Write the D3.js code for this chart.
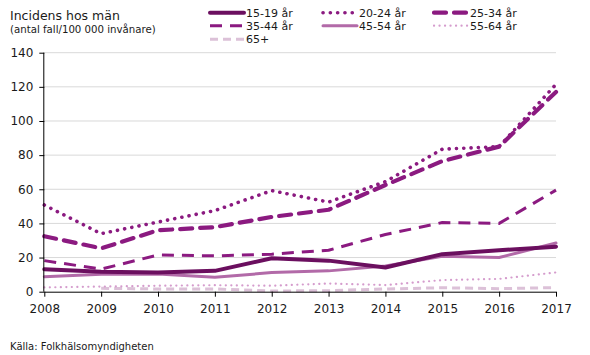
<!DOCTYPE html>
<html><head><meta charset="utf-8">
<script src="https://cdn.jsdelivr.net/npm/d3@7"></script>
<style>
html,body{margin:0;padding:0;background:#fff;}
svg{display:block;font-family:"DejaVu Sans",Verdana,sans-serif;}
</style></head>
<body><svg id="c" width="590" height="355"></svg>
<script>
const years = [2008,2009,2010,2011,2012,2013,2014,2015,2016,2017];
const s15_19 = [13.2,11.7,11.2,12.2,19.6,18.2,14.2,22,24.3,26.4];
const s20_24 = [50.8,34,40.8,47.5,59.2,52.5,64.5,83.5,85,121.5];
const s25_34 = [32.5,25.4,36,37.8,43.8,48,62.5,76.5,85,117];
const s35_44 = [18.2,13.2,21.5,21,22,24.3,33.5,40.5,40,59.5];
const s45_54 = [8.8,10.2,10.4,8.4,11.2,12.2,15,20.8,20,28.5];
const s55_64 = [2.5,3,3.5,3.8,3.5,4.8,3.9,6.8,7.5,11.3];
const s65 = [null,2,1.6,1.6,0.4,0.6,1.6,2.3,1.8,2.4];
const seriesNames = ["15-19 år","20-24 år","25-34 år","35-44 år","45-54 år","55-64 år","65+"];
const yTicks = [0,20,40,60,80,100,120,140];

const styles = [
  {color:"#6b0f5f", width:4,   dash:null,       cap:"round"},
  {color:"#8b1a80", width:3.6, dash:"0.1 7.2",  cap:"round"},
  {color:"#8b1a80", width:4.2, dash:"12 8",     cap:"round"},
  {color:"#8b1a80", width:3,   dash:"12 8",     cap:"butt"},
  {color:"#b26aa8", width:3,   dash:null,       cap:"round"},
  {color:"#d59ccd", width:2.2, dash:"0.1 5.4",  cap:"round"},
  {color:"#dcc1d8", width:3,   dash:"8 5",      cap:"butt"}
];
const allSeries = [s15_19,s20_24,s25_34,s35_44,s45_54,s55_64,s65];

const svg = d3.select("#c");
const x = d3.scaleLinear().domain([2008,2017]).range([44.3,556]);
const y = d3.scaleLinear().domain([0,140]).range([291.7,52.7]);

// gridlines
svg.append("g").selectAll("line").data(yTicks.filter(d=>d>0)).join("line")
  .attr("x1",x(2008)).attr("x2",x(2017)).attr("y1",d=>y(d)).attr("y2",d=>y(d))
  .attr("stroke","#d9d9d9").attr("stroke-width",1);

// lines (draw lightest first)
const line = d3.line().defined(d=>d[1]!=null).x(d=>x(d[0])).y(d=>y(d[1]));
const order = [6,5,4,3,2,1,0];
const lg = svg.append("g");
order.forEach(i=>{
  const st = styles[i];
  lg.append("path").datum(years.map((yr,j)=>[yr,allSeries[i][j]]))
    .attr("d",line).attr("fill","none").attr("stroke",st.color)
    .attr("stroke-width",st.width).attr("stroke-dasharray",st.dash)
    .attr("stroke-linecap",st.cap).attr("stroke-linejoin","round");
});

// axes
const yAxis = d3.axisLeft(y).tickValues(yTicks).tickSize(5).tickPadding(6);
const gy = svg.append("g").attr("transform",`translate(${x(2008)},0)`).call(yAxis);
const xAxis = d3.axisBottom(x).tickValues(years).tickFormat(d3.format("d")).tickSize(5).tickPadding(8);
const gx = svg.append("g").attr("transform",`translate(0,${y(0)})`).call(xAxis);
[gy,gx].forEach(g=>{
  g.select(".domain").attr("stroke","#000").attr("stroke-width",1);
  g.selectAll(".tick line").attr("stroke","#000");
  g.selectAll("text").attr("font-family","DejaVu Sans").attr("font-size",12).attr("fill","#1a1a1a");
});
gy.select(".domain").attr("d",`M-0.5,${y(140)}V${y(0)}`);
gx.select(".domain").attr("d",`M${x(2008)},0.5H${x(2017)}`);

// titles
svg.append("text").attr("x",10).attr("y",20).attr("font-size",12.5).attr("fill","#1a1a1a").text("Incidens hos män");
svg.append("text").attr("x",10).attr("y",33).attr("font-size",10.2).attr("fill","#1a1a1a").text("(antal fall/100 000 invånare)");
svg.append("text").attr("x",10).attr("y",350).attr("font-size",10).attr("fill","#1a1a1a").text("Källa: Folkhälsomyndigheten");

// legend
const legCols = [209,322,433];
const legRows = [12.7,25.7,39.3];
seriesNames.forEach((name,i)=>{
  const cx = legCols[i%3], cy = legRows[Math.floor(i/3)];
  const st = styles[i];
  const g = svg.append("g");
  g.append("line").attr("x1",cx+1).attr("x2",cx+35).attr("y1",cy).attr("y2",cy)
    .attr("stroke",st.color).attr("stroke-width",st.width)
    .attr("stroke-dasharray",st.dash).attr("stroke-linecap",st.cap);
  g.append("text").attr("x",cx+37).attr("y",cy+4).attr("font-size",11).attr("fill","#1a1a1a").text(name);
});
</script></body></html>
